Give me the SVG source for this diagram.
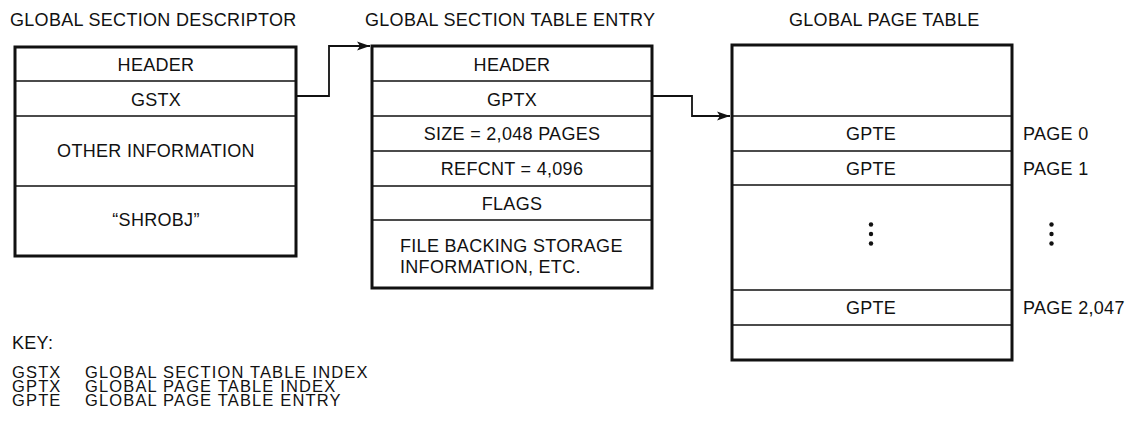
<svg xmlns="http://www.w3.org/2000/svg" width="1128" height="421" viewBox="0 0 1128 421">
<style>
text{font-family:"Liberation Sans",Arial,sans-serif;font-size:18px;letter-spacing:0.3px;fill:#111}
.c{text-anchor:middle}
.k{font-size:16.5px;letter-spacing:1.15px}
.box{fill:#fff;stroke:#111;stroke-width:3}
.div{stroke:#111;stroke-width:1.7;fill:none}
.conn{stroke:#111;stroke-width:1.8;fill:none}
.dot{fill:#111}
</style>
<defs>
<marker id="arr" markerUnits="userSpaceOnUse" markerWidth="14" markerHeight="10" refX="13" refY="5" orient="auto">
<path d="M0,0.5 L13,5 L0,9.5 L3,5 Z" fill="#111"/>
</marker>
</defs>

<g id="titles">
<text x="10" y="26">GLOBAL SECTION DESCRIPTOR</text>
<text x="365" y="26">GLOBAL SECTION TABLE ENTRY</text>
<text x="789" y="26">GLOBAL PAGE TABLE</text>
</g>

<g id="gsd">
<rect class="box" x="15" y="47" width="281" height="209"/>
<path class="div" d="M15,81H296M15,116H296M15,186H296"/>
<text class="c" x="156" y="71">HEADER</text>
<text class="c" x="156" y="106">GSTX</text>
<text class="c" x="156" y="157">OTHER INFORMATION</text>
<text class="c" x="156" y="226">“SHROBJ”</text>
</g>

<g id="gste">
<rect class="box" x="372" y="46" width="280" height="242"/>
<path class="div" d="M372,81H652M372,116H652M372,151H652M372,186H652M372,220H652"/>
<text class="c" x="512" y="71">HEADER</text>
<text class="c" x="512" y="106">GPTX</text>
<text class="c" x="512" y="140">SIZE = 2,048 PAGES</text>
<text class="c" x="512" y="175">REFCNT = 4,096</text>
<text class="c" x="512" y="210">FLAGS</text>
<text x="400" y="252">FILE BACKING STORAGE</text>
<text x="400" y="273">INFORMATION, ETC.</text>
</g>

<g id="gpt">
<rect class="box" x="732" y="45" width="280" height="315"/>
<path class="div" d="M732,116H1012M732,151H1012M732,185H1012M732,290H1012M732,325H1012"/>
<text class="c" x="871" y="140">GPTE</text>
<text class="c" x="871" y="175">GPTE</text>
<circle class="dot" cx="871" cy="224.5" r="2.2"/>
<circle class="dot" cx="871" cy="234" r="2.2"/>
<circle class="dot" cx="871" cy="243.5" r="2.2"/>
<text class="c" x="871" y="314">GPTE</text>
</g>

<g id="page-labels">
<text x="1023" y="140">PAGE 0</text>
<text x="1023" y="175">PAGE 1</text>
<circle class="dot" cx="1051.5" cy="224.5" r="2.2"/>
<circle class="dot" cx="1051.5" cy="234" r="2.2"/>
<circle class="dot" cx="1051.5" cy="243.5" r="2.2"/>
<text x="1023" y="314">PAGE 2,047</text>
</g>

<g id="connectors">
<path class="conn" d="M296,96H329V46H370" marker-end="url(#arr)"/>
<path class="conn" d="M652,96H692V116H730" marker-end="url(#arr)"/>
</g>

<g id="key">
<text x="12" y="348.5">KEY:</text>
<text class="k" x="12" y="377.5">GSTX</text>
<text class="k" x="85" y="377.5">GLOBAL SECTION TABLE INDEX</text>
<text class="k" x="12" y="391.8">GPTX</text>
<text class="k" x="85" y="391.8">GLOBAL PAGE TABLE INDEX</text>
<text class="k" x="12" y="406">GPTE</text>
<text class="k" x="85" y="406">GLOBAL PAGE TABLE ENTRY</text>
</g>
</svg>
